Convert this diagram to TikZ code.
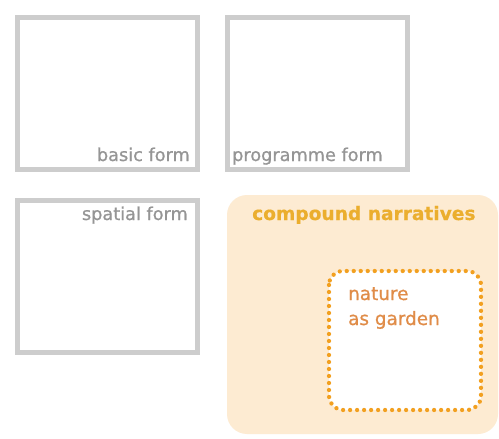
\documentclass[tikz,border=0pt]{standalone}
\usepackage{fontspec}
\setmainfont{DejaVu Sans}
\newfontfamily\heavyfont[FakeBold=0.8]{DejaVu Sans}
\newfontfamily\goldfont[FakeBold=0.6]{DejaVu Sans Bold}
\definecolor{boxgray}{HTML}{CDCDCD}
\definecolor{txtgray}{HTML}{959595}
\definecolor{peach}{HTML}{FDEBD2}
\definecolor{gold}{HTML}{EBAE2E}
\definecolor{dotorange}{HTML}{F2A020}
\definecolor{natorange}{HTML}{E08C48}
\tikzset{
  formbox/.style={draw=boxgray, line width=5pt, fill=white},
  graylabel/.style={text=txtgray, font=\heavyfont\fontsize{17.7}{20}\selectfont, inner sep=0pt},
  goldlabel/.style={text=gold, font=\goldfont\fontsize{18.6}{21}\selectfont, inner sep=0pt},
  natlabel/.style={text=natorange, font=\heavyfont\fontsize{18.4}{21}\selectfont, inner sep=0pt},
}
\begin{document}
\begin{tikzpicture}[x=1pt,y=-1pt]
\useasboundingbox[fill=white] (0,0) rectangle (499,439);
% grey boxes
\draw[formbox] (17.5,17) rectangle (197.5,169.5);
\draw[formbox] (227.5,17) rectangle (407.5,169.5);
\draw[formbox] (17.5,200.5) rectangle (197.5,352.5);
\node[graylabel, anchor=base east] (basic) at (190,161) {basic form};
\node[graylabel, anchor=base west] (prog) at (232,161) {programme form};
\node[graylabel, anchor=base east] (spatial) at (188,220) {spatial form};
% compound narratives
\fill[peach, rounded corners=20pt] (227,195) rectangle (498,434);
\node[goldlabel, anchor=base west] (compound) at (252,220) {compound narratives};
\draw[draw=dotorange, fill=white, line width=4.3pt, line cap=round,
      dash pattern=on 0pt off 7pt, rounded corners=14pt] (329,271) rectangle (481,410);
\node[natlabel, anchor=base west] (nature) at (348,300) {nature};
\node[natlabel, anchor=base west] (garden) at (348,325) {as garden};
\end{tikzpicture}
\end{document}
